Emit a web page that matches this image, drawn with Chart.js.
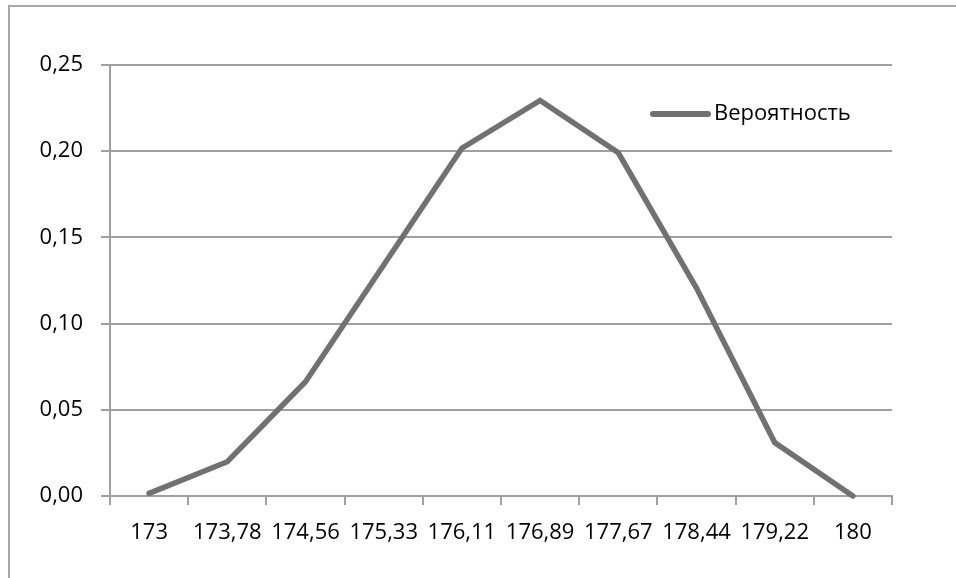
<!DOCTYPE html>
<html lang="ru">
<head>
<meta charset="UTF-8">
<title>Вероятность</title>
<script src="https://cdn.jsdelivr.net/npm/chart.js@4"></script>
<style>
    html, body { margin: 0; padding: 0; background: #fff; overflow: hidden; }
    #frame { position: absolute; left: 8px; top: 5px; width: 1000px; height: 640px; border: 2px solid #a8a8a8; box-sizing: border-box; }
    #chart { position: absolute; left: 0; top: 0; }
</style>
</head>
<body>
<div id="frame"></div>
<canvas id="chart" width="956" height="578"></canvas>
<script>
// данные графика
const categories = ['173', '173,78', '174,56', '175,33', '176,11', '176,89', '177,67', '178,44', '179,22', '180'];
const probability = [0.0015, 0.0199, 0.0663, 0.134, 0.2017, 0.2294, 0.1991, 0.1206, 0.031, 0.0];
const seriesName = 'Вероятность';
const yTicks = [0, 0.05, 0.10, 0.15, 0.20, 0.25];

const gridColor = '#a0a0a0';
const lineColor = '#717171';
const fontFamily = '"Open Sans", "Noto Sans", sans-serif';

// легенда внутри области графика, справа сверху
const insideLegend = {
    id: 'insideLegend',
    afterDraw(chart) {
        const ctx = chart.ctx;
        const area = chart.chartArea;
        const ds = chart.data.datasets[0];
        const y = area.top + 49;
        const x0 = area.right - 239;
        ctx.save();
        ctx.strokeStyle = ds.borderColor;
        ctx.lineWidth = 6;
        ctx.lineCap = 'round';
        ctx.beginPath();
        ctx.moveTo(x0, y);
        ctx.lineTo(x0 + 55, y);
        ctx.stroke();
        ctx.fillStyle = '#000';
        ctx.font = '22px ' + fontFamily;
        ctx.textBaseline = 'middle';
        ctx.textAlign = 'left';
        ctx.fillText(ds.label, x0 + 61, y);
        ctx.restore();
    }
};

new Chart(document.getElementById('chart'), {
    type: 'line',
    data: {
        labels: categories,
        datasets: [{
            label: seriesName,
            data: probability,
            borderColor: lineColor,
            borderWidth: 5.5,
            borderCapStyle: 'round',
            borderJoinStyle: 'miter',
            pointRadius: 0,
            tension: 0,
            fill: false,
            clip: false
        }]
    },
    options: {
        responsive: false,
        animation: false,
        layout: { padding: { left: 0, right: 64, top: 65, bottom: 0 } },
        plugins: {
            legend: { display: false },
            tooltip: { enabled: false }
        },
        scales: {
            x: {
                type: 'category',
                offset: true,
                grid: { offset: true, drawOnChartArea: false, tickLength: 9, color: gridColor, lineWidth: 2 },
                border: { color: gridColor, width: 2 },
                ticks: { color: '#000', font: { family: fontFamily, size: 22 }, padding: 15, maxRotation: 0, autoSkip: false },
                afterFit(scale) { scale.height = 82; }
            },
            y: {
                min: 0,
                max: 0.25,
                afterBuildTicks(scale) { scale.ticks = yTicks.map(v => ({ value: v })); },
                grid: { tickLength: 9, color: gridColor, lineWidth: 2 },
                border: { color: gridColor, width: 2 },
                ticks: {
                    color: '#000',
                    font: { family: fontFamily, size: 22 },
                    padding: 18,
                    callback: v => v.toFixed(2).replace('.', ',')
                },
                afterFit(scale) { scale.width = 110; }
            }
        }
    },
    plugins: [insideLegend]
});
</script>
</body>
</html>
